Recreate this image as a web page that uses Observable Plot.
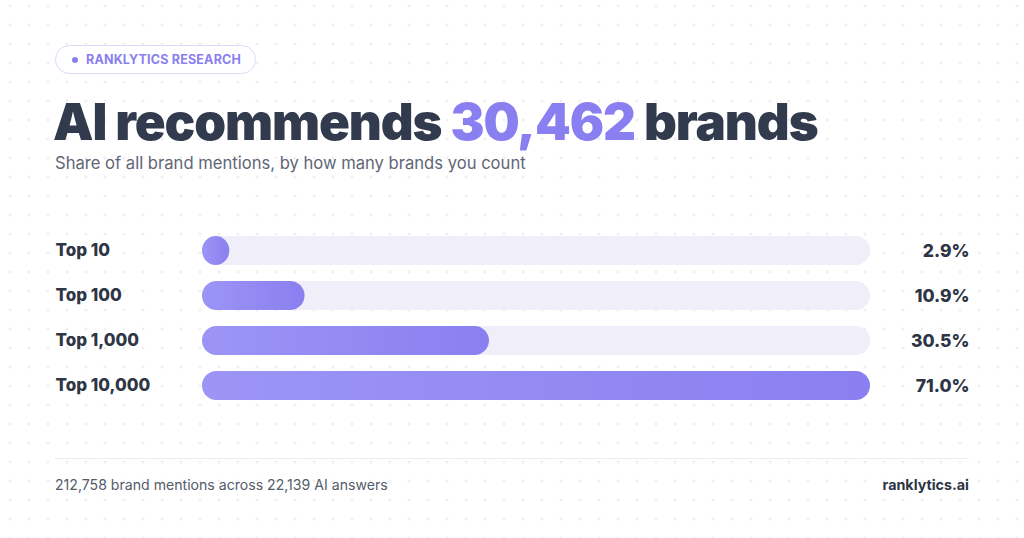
<!DOCTYPE html>
<html>
<head>
<meta charset="utf-8">
<script src="https://cdn.jsdelivr.net/npm/d3@7"></script>
<script src="https://cdn.jsdelivr.net/npm/@observablehq/plot@0.6"></script>
<style>
  html, body { margin: 0; padding: 0; }
  body {
    width: 1024px; height: 538px; position: relative; overflow: hidden;
    background-color: #ffffff;
    background-image: radial-gradient(circle, #e4e4ec 0.9px, rgba(255,255,255,0) 1.4px);
    background-size: 19px 19px;
    background-position: 0.5px -3.5px;
    font-family: Inter, "Noto Sans", sans-serif;
  }
  .pill {
    position: absolute; left: 55px; top: 45px; width: 199px; height: 27px;
    border: 1px solid #ddd9f6; border-radius: 15px; background: #fff;
    box-sizing: content-box;
  }
  .pill .dot { position: absolute; left: 16px; top: 11px; width: 6px; height: 6px; border-radius: 3px; background: #8a7ff0; }
  .pill .txt { position: absolute; left: 30px; top: 0; line-height: 27px; font-size: 12.5px; font-weight: 700; color: #8a7ff0; letter-spacing: 0.2px; white-space: nowrap; }
  .title { position: absolute; left: 53px; top: 92px; font-size: 51px; font-weight: 900; color: #323a4d; letter-spacing: -1.1px; white-space: nowrap; line-height: 60px; }
  .title .hl { color: #8a7ff0; }
  .subtitle { position: absolute; left: 55px; top: 152px; font-size: 16.6px; color: #5f6676; white-space: nowrap; line-height: 22px; }
  #chart { position: absolute; left: 0; top: 220px; }
  .rule { position: absolute; left: 55px; width: 914px; top: 458px; height: 1px; background: #ececf1; }
  .foot { position: absolute; top: 476px; font-size: 14.1px; line-height: 18px; color: #555c6a; white-space: nowrap; }
  .foot.left { left: 55px; }
  .foot.right { right: 55px; font-weight: 700; color: #2e3545; font-size: 14.3px; }
</style>
</head>
<body>
<div class="pill"><div class="dot"></div><div class="txt">RANKLYTICS RESEARCH</div></div>
<div class="title">AI recommends <span class="hl">30,462</span> brands</div>
<div class="subtitle">Share of all brand mentions, by how many brands you count</div>
<div id="chart"></div>
<div class="rule"></div>
<div class="foot left">212,758 brand mentions across 22,139 AI answers</div>
<div class="foot right">ranklytics.ai</div>
<script>
const categories = ["Top 10", "Top 100", "Top 1,000", "Top 10,000"];
const shares = [2.9, 10.9, 30.5, 71.0];
const valueLabels = ["2.9%", "10.9%", "30.5%", "71.0%"];

const data = categories.map((c, i) => ({label: c, share: shares[i], text: valueLabels[i]}));
const maxShare = d3.max(shares);

const plot = Plot.plot({
  width: 1024,
  height: 200,
  marginLeft: 202,
  marginRight: 154,
  marginTop: 15,
  marginBottom: 20,
  style: {fontFamily: "Inter, 'Noto Sans', sans-serif", background: "transparent", overflow: "visible"},
  x: {domain: [0, maxShare], axis: null},
  y: {domain: categories, axis: null, paddingInner: 0.36, paddingOuter: 0},
  marks: [
    Plot.barX(data, {y: "label", x1: 0, x2: maxShare, fill: "#f0eef9", rx: 14.5}),
    Plot.barX(data, {y: "label", x1: 0, x2: "share", fill: "url(#barGrad)", rx: 14.5}),
    Plot.text(data, {y: "label", text: "label", frameAnchor: "left", dx: -147, textAnchor: "start", fontSize: 17, fontWeight: 800, fill: "#2e3545"}),
    Plot.text(data, {y: "label", text: "text", frameAnchor: "right", dx: 99, textAnchor: "end", fontSize: 17.5, fontWeight: 800, fill: "#2e3545"})
  ]
});

const svg = d3.select(plot);
const defs = svg.insert("defs", ":first-child");
const g = defs.append("linearGradient").attr("id", "barGrad").attr("x1", "0").attr("x2", "1").attr("y1", "0").attr("y2", "0");
g.append("stop").attr("offset", "0%").attr("stop-color", "#9c95f6");
g.append("stop").attr("offset", "100%").attr("stop-color", "#8a7ff0");

document.getElementById("chart").appendChild(plot);
</script>
</body>
</html>
